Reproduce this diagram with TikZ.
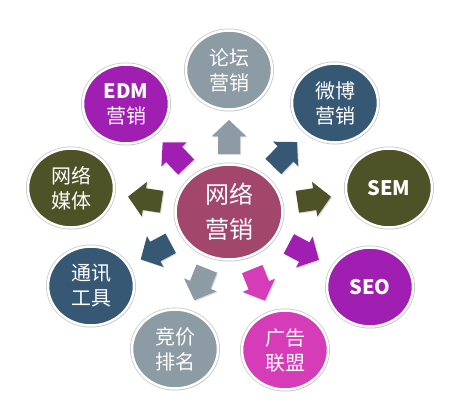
\documentclass[tikz,border=0pt]{standalone}
\usepackage{fontspec}
\setmainfont{Noto Sans CJK SC}
\usetikzlibrary{shapes.geometric,shadows}
\definecolor{cgray}{HTML}{8D9BA5}
\definecolor{cblue}{HTML}{365875}
\definecolor{colive}{HTML}{4E5227}
\definecolor{cpurple}{HTML}{A01EB2}
\definecolor{cpink}{HTML}{D63CB8}
\definecolor{chub}{HTML}{A3466B}
\tikzset{
  every picture/.style={x=1pt, y=-1pt},
  ring/.style={ellipse, draw=white, line width=2.5pt, text=white, align=center,
    inner sep=0pt, preaction={draw=black!22, line width=4pt},
    drop shadow={shadow xshift=1pt, shadow yshift=-1.5pt, opacity=0.25}},
  hub/.style={ring, fill=chub, minimum width=107pt, minimum height=95pt,
    font=\fontsize{24}{35}\selectfont},
  leaf/.style={ring, minimum width=86pt, minimum height=79pt,
    font=\fontsize{20}{25}\selectfont},
  blk/.pic={
    \fill[drop shadow={shadow xshift=1pt, shadow yshift=-1pt, opacity=0.3}]
      (-17,-11) -- (0.5,-11) -- (0.5,-17.5) -- (17,0) -- (0.5,17.5)
      -- (0.5,11) -- (-17,11) -- cycle;
  },
}

\begin{document}
\begin{tikzpicture}
  \useasboundingbox (0,0) rectangle (468,406);
  \node[hub] (hub) at (229,212) {网络\\营销};
  % outer ring of channels
  \foreach \n/\x/\y/\c/\s in {forum/229/70/cgray/{论坛\\营销},
      weibo/335/103/cblue/{微博\\营销}, sem/389/188/colive/{\bfseries SEM},
      seo/370/287/cpurple/{\bfseries SEO}, ads/285/350/cpink/{广告\\联盟},
      bid/175/349/cgray/{竞价\\排名}, im/91/286/cblue/{通讯\\工具},
      media/71/188/colive/{网络\\媒体},
      edm/126/104/cpurple/{\textbf{EDM}\\营销}}
    \node[leaf, fill=\c] (\n) at (\x,\y) {\s};
  % block arrows from the hub
  \foreach \n/\c in {forum/cgray, weibo/cblue, sem/colive, seo/cpurple,
      ads/cpink, bid/cgray, im/cblue, media/colive, edm/cpurple}
    \path (hub) -- (\n) pic[midway, sloped, allow upside down, fill=\c] {blk};
\end{tikzpicture}
\end{document}
